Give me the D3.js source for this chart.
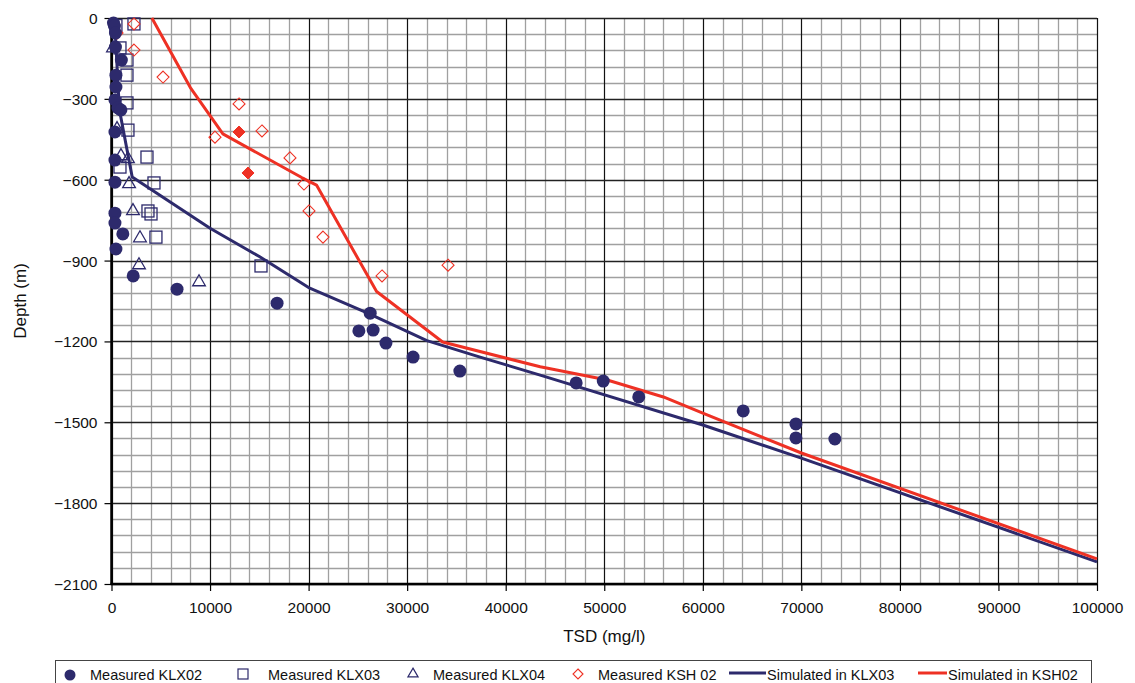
<!DOCTYPE html>
<html><head><meta charset="utf-8">
<script src="https://cdn.jsdelivr.net/npm/d3@7"></script>
<style>
html,body{margin:0;padding:0;background:#fff;}
svg{display:block;font-family:"Liberation Sans",Arial,Helvetica,sans-serif;}
</style></head>
<body>
<svg id="chart" width="1135" height="683"></svg>
<script>
// ---- data ----
const xTicks = [0,10000,20000,30000,40000,50000,60000,70000,80000,90000,100000];
const yTicks = [0,-300,-600,-900,-1200,-1500,-1800,-2100];

const klx02 = [[200,-19],[300,-30],[400,-56],[400,-108],[1000,-156],[450,-212],[450,-256],[350,-304],[650,-334],[950,-341],[350,-423],[350,-527],[350,-609],[350,-724],[350,-761],[1150,-801],[450,-857],[2200,-957],[6650,-1006],[16800,-1058],[26250,-1095],[25100,-1161],[26550,-1158],[27850,-1206],[30600,-1258],[35350,-1310],[47150,-1354],[49900,-1347],[53500,-1406],[64100,-1458],[69450,-1506],[69450,-1558],[73400,-1562]];
const klx03 = [[2280,-22],[450,-28],[860,-111],[1570,-156],[1570,-212],[1570,-315],[1670,-416],[3600,-516],[860,-553],[4310,-612],[3700,-716],[4010,-727],[4510,-813],[15170,-920]];
const klx04 = [[150,-108],[560,-408],[960,-508],[1670,-519],[1780,-612],[2180,-712],[2890,-813],[2790,-913],[8880,-976]];
const ksh02 = [[2280,-22],[560,-56],[2280,-119],[5230,-219],[12940,-319],[10500,-442],[15270,-419],[18110,-519],[19530,-616],[20040,-716],[21460,-813],[27450,-957],[34150,-917]];
const ksh02Filled = [[12940,-423],[13850,-575]];
const simKLX03 = [[300,0],[800,-340],[2100,-590],[10000,-780],[15000,-885],[20000,-1000],[26000,-1095],[32000,-1197],[37400,-1258],[43500,-1325],[60000,-1510],[70000,-1633],[100000,-2018]];
const simKSH02 = [[4100,0],[8000,-258],[11300,-430],[19300,-592],[20800,-620],[26900,-1015],[33600,-1202],[43500,-1294],[50300,-1343],[56000,-1406],[60000,-1466],[70000,-1614],[100000,-2007]];

const legendItems = ["Measured KLX02","Measured KLX03","Measured KLX04","Measured KSH 02","Simulated in KLX03","Simulated in KSH02"];

// ---- drawing ----
const NAVY = "#2d2a6c", RED = "#ee3124";
const svg = d3.select("#chart");
const L = 111.5, R = 1097, T = 18, B = 584;
const x = d3.scaleLinear().domain([0,100000]).range([L,R]);
const y = d3.scaleLinear().domain([-2100,0]).range([B,T]);

const grid = svg.append("g");
const minorX = d3.range(0,100001,2000).filter(v=>v%10000!==0);
const minorY = d3.range(-2100,1,60).filter(v=>v%300!==0);
grid.selectAll(".mx").data(minorX).join("line")
  .attr("x1",d=>Math.round(x(d))+0.5).attr("x2",d=>Math.round(x(d))+0.5)
  .attr("y1",T).attr("y2",B).attr("stroke","#a0a0a0").attr("stroke-width",1.3);
grid.selectAll(".my").data(minorY).join("line")
  .attr("y1",d=>Math.round(y(d))+0.5).attr("y2",d=>Math.round(y(d))+0.5)
  .attr("x1",L).attr("x2",R).attr("stroke","#a0a0a0").attr("stroke-width",1.3);
grid.selectAll(".Mx").data(xTicks).join("line")
  .attr("x1",d=>Math.round(x(d))+0.5).attr("x2",d=>Math.round(x(d))+0.5)
  .attr("y1",T).attr("y2",B).attr("stroke","#111").attr("stroke-width",1.2);
grid.selectAll(".My").data(yTicks).join("line")
  .attr("y1",d=>Math.round(y(d))+0.5).attr("y2",d=>Math.round(y(d))+0.5)
  .attr("x1",L).attr("x2",R).attr("stroke","#222").attr("stroke-width",1.4);

// axes
const xAxis = d3.axisBottom(x).tickValues(xTicks).tickSize(7).tickFormat(d3.format("d"));
const yAxis = d3.axisLeft(y).tickValues(yTicks).tickSize(7).tickFormat(d3.format("d"));
const gx = svg.append("g").attr("transform",`translate(0,${B})`).call(xAxis);
const gy = svg.append("g").attr("transform",`translate(${L},0)`).call(yAxis);
[gx,gy].forEach(g=>{
  g.select(".domain").remove();
  g.selectAll("line").attr("stroke","#000").attr("stroke-width",1.2);
  g.selectAll("text").attr("font-size",15.5).attr("fill","#111")
   .attr("font-family","'Liberation Sans',Arial,sans-serif");
});
gx.selectAll("text").attr("dy","1.2em");
gy.selectAll("text").attr("dx","-4").attr("dy","0.35em");
// axis lines
svg.append("line").attr("x1",L).attr("x2",L).attr("y1",T).attr("y2",B+1).attr("stroke","#000").attr("stroke-width",2.5);
svg.append("line").attr("x1",L-1).attr("x2",R).attr("y1",B).attr("y2",B).attr("stroke","#000").attr("stroke-width",2.5);

// titles
svg.append("text").attr("x",(L+R)/2).attr("y",642).attr("text-anchor","middle")
  .attr("font-size",17).attr("fill","#111").text("TSD (mg/l)");
svg.append("text").attr("transform",`translate(26,${(T+B)/2}) rotate(-90)`).attr("text-anchor","middle")
  .attr("font-size",17).attr("fill","#111").text("Depth (m)");

// lines
const line = d3.line().x(d=>x(d[0])).y(d=>y(d[1]));
svg.append("clipPath").attr("id","clip").append("rect").attr("x",L).attr("y",T-2).attr("width",R-L+3).attr("height",B-T+2);
const plot = svg.append("g").attr("clip-path","url(#clip)");
plot.append("path").datum(simKLX03).attr("d",line).attr("fill","none").attr("stroke",NAVY).attr("stroke-width",3).attr("stroke-linejoin","round");
plot.append("path").datum(simKSH02).attr("d",line).attr("fill","none").attr("stroke",RED).attr("stroke-width",3).attr("stroke-linejoin","round");

// markers
const sym = (type,size)=>d3.symbol().type(type).size(size)();
const mk = svg.append("g");
mk.selectAll(".k3").data(klx03).join("rect")
  .attr("x",d=>x(d[0])-6).attr("y",d=>y(d[1])-6).attr("width",12).attr("height",12)
  .attr("fill","none").attr("stroke",NAVY).attr("stroke-width",1.3);
mk.selectAll(".k4").data(klx04).join("path")
  .attr("d",sym(d3.symbolTriangle,70))
  .attr("transform",d=>`translate(${x(d[0])},${y(d[1])+1})`)
  .attr("fill","none").attr("stroke",NAVY).attr("stroke-width",1.3);
mk.selectAll(".ks").data(ksh02).join("path")
  .attr("d","M0,-6L6,0L0,6L-6,0Z")
  .attr("transform",d=>`translate(${x(d[0])},${y(d[1])})`)
  .attr("fill","none").attr("stroke",RED).attr("stroke-width",1.1);
mk.selectAll(".ksf").data(ksh02Filled).join("path")
  .attr("d","M0,-6L6,0L0,6L-6,0Z")
  .attr("transform",d=>`translate(${x(d[0])},${y(d[1])})`)
  .attr("fill",RED).attr("stroke",RED).attr("stroke-width",1);
mk.selectAll(".k2").data(klx02).join("circle")
  .attr("cx",d=>x(d[0])).attr("cy",d=>y(d[1])).attr("r",6.5).attr("fill",NAVY);

// legend
const lg = svg.append("g");
lg.append("rect").attr("x",55.5).attr("y",660.5).attr("width",1036).attr("height",40)
  .attr("fill","#fff").attr("stroke","#444").attr("stroke-width",1);
const ly = 675;
const pos = [70,243,413,578,729,918];
const tpos = [90,268,433,598,767,948];
lg.append("circle").attr("cx",pos[0]).attr("cy",ly).attr("r",5.5).attr("fill",NAVY);
lg.append("rect").attr("x",pos[1]-5).attr("y",ly-6).attr("width",10).attr("height",10).attr("fill","none").attr("stroke",NAVY).attr("stroke-width",1.2);
lg.append("path").attr("d",sym(d3.symbolTriangle,45)).attr("transform",`translate(${pos[2]},${ly-1})`).attr("fill","none").attr("stroke",NAVY).attr("stroke-width",1.2);
lg.append("path").attr("d","M0,-5L5,0L0,5L-5,0Z").attr("transform",`translate(${pos[3]},${ly-1})`).attr("fill","none").attr("stroke",RED).attr("stroke-width",1.1);
lg.append("line").attr("x1",pos[4]).attr("x2",766).attr("y1",ly-2).attr("y2",ly-2).attr("stroke",NAVY).attr("stroke-width",3);
lg.append("line").attr("x1",pos[5]).attr("x2",947).attr("y1",ly-2).attr("y2",ly-2).attr("stroke",RED).attr("stroke-width",3);
lg.selectAll(".lt").data(legendItems).join("text")
  .attr("x",(d,i)=>tpos[i]).attr("y",ly+5).attr("font-size",14.5).attr("fill","#111").text(d=>d);
</script>
</body></html>
